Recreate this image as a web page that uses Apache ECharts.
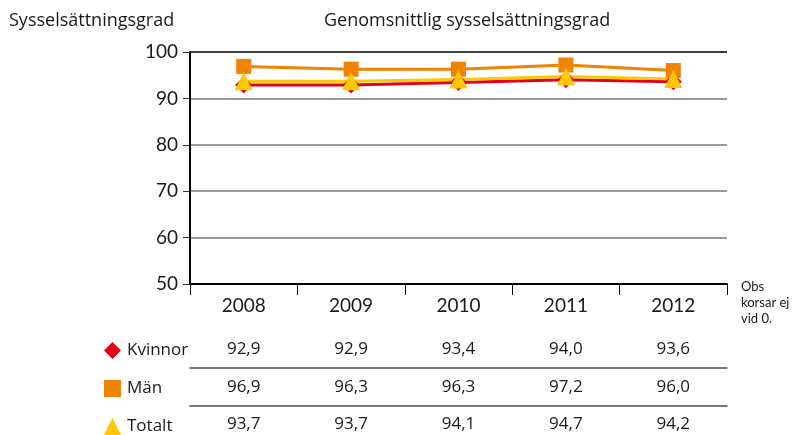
<!DOCTYPE html>
<html>
<head>
<meta charset="utf-8">
<script src="https://cdn.jsdelivr.net/npm/echarts@6/dist/echarts.min.js"></script>
<style>
  html, body { margin: 0; padding: 0; background: #fff; }
  #chart { width: 795px; height: 435px; }
</style>
</head>
<body>
<div id="chart"></div>
<script>
  const years = ['2008', '2009', '2010', '2011', '2012'];
  const kvinnor = [92.9, 92.9, 93.4, 94.0, 93.6];
  const man = [96.9, 96.3, 96.3, 97.2, 96.0];
  const totalt = [93.7, 93.7, 94.1, 94.7, 94.2];
  const yTicks = [50, 60, 70, 80, 90, 100];

  const font = 'Lato, "DejaVu Sans", sans-serif';
  const headFont = '"Open Sans", "Noto Sans", sans-serif';
  const tableFont = '"Open Sans", "Noto Sans", sans-serif';
  const fmt = v => v.toFixed(1).replace('.', ',');

  // table rows are extra x axes under the plot, labels come from the series arrays
  function rowAxis(values, offset, margin, showLine) {
    return {
      type: 'category',
      data: years,
      position: 'bottom',
      offset: offset,
      axisLine: { show: showLine, lineStyle: { color: '#4d4d4d', width: 1.5 } },
      axisTick: { show: false },
      axisLabel: {
        margin: margin,
        fontSize: 17,
        fontFamily: tableFont,
        color: '#1a1a1a',
        formatter: (v, i) => fmt(values[i])
      }
    };
  }

  const option = {
    animation: false,
    title: [{
      text: 'Sysselsättningsgrad',
      left: 4, top: 7,
      textStyle: { fontSize: 18, fontWeight: 'normal', fontFamily: headFont, color: '#1a1a1a' }
    }, {
      text: 'Genomsnittlig sysselsättningsgrad',
      left: 319, top: 7,
      textStyle: { fontSize: 18, fontWeight: 'normal', fontFamily: headFont, color: '#1a1a1a' }
    }],
    legend: [
      { name: 'Kvinnor', icon: 'diamond', top: 337 },
      { name: 'Män', icon: 'rect', top: 375 },
      { name: 'Totalt', icon: 'triangle', top: 413 }
    ].map(l => ({
      data: [{ name: l.name, icon: l.icon }],
      left: 99, top: l.top,
      itemWidth: 17, itemHeight: 17,
      selectedMode: false,
      textStyle: { fontSize: 17, fontFamily: tableFont, color: '#1a1a1a', padding: [0, 0, 0, 1] }
    })),
    grid: { left: 190, right: 68, top: 52, bottom: 151 },
    xAxis: [{
      type: 'category',
      data: years,
      position: 'bottom',
      axisLine: { lineStyle: { color: '#000', width: 2 } },
      axisTick: { show: true, length: 11, lineStyle: { color: '#000', width: 1 } },
      axisLabel: { margin: 12, fontSize: 19, fontFamily: font, color: '#1a1a1a' }
    },
      rowAxis(kvinnor, 49, 8, false),
      rowAxis(man, 84, 11, true),
      rowAxis(totalt, 122, 10, true)
    ],
    yAxis: {
      type: 'value',
      min: yTicks[0],
      max: yTicks[yTicks.length - 1],
      interval: 10,
      axisLine: { show: true, lineStyle: { color: '#000', width: 2 } },
      axisTick: { show: true, length: 7, lineStyle: { color: '#333' } },
      axisLabel: { margin: 12, fontSize: 19, fontFamily: font, color: '#1a1a1a' },
      splitLine: {
        lineStyle: { color: ['#000', '#7a7a7a', '#7a7a7a', '#7a7a7a', '#7a7a7a', '#000'], width: 1.5 }
      }
    },
    series: [{
      name: 'Kvinnor', type: 'line', data: kvinnor,
      symbol: 'diamond', symbolSize: 17,
      lineStyle: { width: 3 },
      color: '#e2001a'
    }, {
      name: 'Män', type: 'line', data: man,
      symbol: 'rect', symbolSize: 15,
      lineStyle: { width: 3 },
      color: '#f08400'
    }, {
      name: 'Totalt', type: 'line', data: totalt,
      symbol: 'triangle', symbolSize: 18,
      lineStyle: { width: 3 },
      color: '#ffc800'
    }],
    graphic: [{
      type: 'text',
      left: 741, top: 279,
      style: {
        text: 'Obs\nkorsar ej\nvid 0.',
        fontSize: 13, lineHeight: 16,
        fontFamily: font, fill: '#1a1a1a'
      }
    }]
  };

  const chart = echarts.init(document.getElementById('chart'));
  chart.setOption(option);
</script>
</body>
</html>
